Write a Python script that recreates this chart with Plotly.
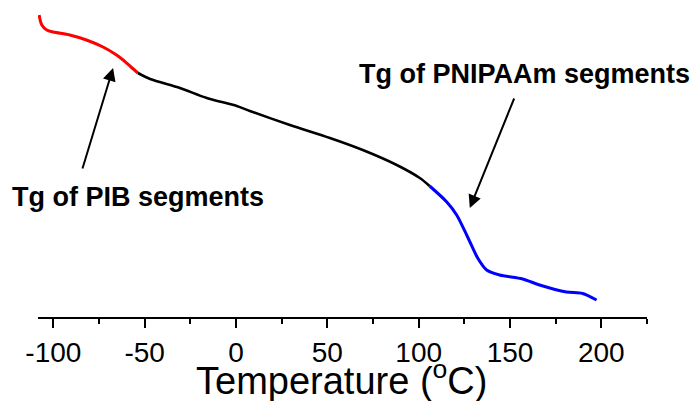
import plotly.graph_objects as go

# Temperature (°C) and heat-flow signal (arbitrary units)
temp_pib = [-107.8, -106.3, -103.6, -100.0, -91.0, -81.9, -72.8, -65.4, -61.8, -57.5, -53.7]
flow_pib = [30.2, 29.2, 28.7, 28.5, 28.2, 27.7, 27.0, 26.2, 25.7, 25.0, 24.4]

temp_mid = [-53.7, -47.0, -30.7, -16.0, 0.4, 7.6, 29.5, 51.4, 69.4, 88.0, 100.6, 106.0]
flow_mid = [24.4, 23.8, 22.9, 21.9, 21.1, 20.6, 19.2, 17.9, 16.7, 15.2, 13.9, 13.1]

temp_pni = [106.0, 115.4, 120.8, 126.8, 132.3, 137.2, 144.3, 156.9, 166.2, 180.9, 189.7, 197.4]
flow_pni = [13.1, 11.5, 10.2, 8.0, 5.9, 4.7, 4.2, 3.8, 3.2, 2.5, 2.35, 1.7]

major_ticks = [-100, -50, 0, 50, 100, 150, 200]
major_labels = ["-100", "-50", "0", "50", "100", "150", "200"]
minor_ticks = [-75, -25, 25, 75, 125, 175, 225]

FONT = "Liberation Sans, Arial, sans-serif"

fig = go.Figure()
fig.add_trace(go.Scatter(x=temp_pib, y=flow_pib, mode="lines",
                         line=dict(color="#ff0000", width=3, shape="spline", smoothing=0.8),
                         showlegend=False))
fig.add_trace(go.Scatter(x=temp_mid, y=flow_mid, mode="lines",
                         line=dict(color="#000000", width=2.6, shape="spline", smoothing=0.8),
                         showlegend=False))
fig.add_trace(go.Scatter(x=temp_pni, y=flow_pni, mode="lines",
                         line=dict(color="#0000ff", width=3, shape="spline", smoothing=0.8),
                         showlegend=False))

fig.update_layout(
    width=698, height=401,
    margin=dict(l=38, r=51, t=10, b=84, autoexpand=False),
    paper_bgcolor="white", plot_bgcolor="white",
    font=dict(family=FONT, color="black"),
    xaxis=dict(
        range=[-108.4, 225], showgrid=False, zeroline=False, automargin=False,
        showline=True, linecolor="black", linewidth=2,
        tickmode="array", tickvals=major_ticks, ticktext=major_labels,
        ticks="outside", ticklen=9, tickwidth=2, tickcolor="black",
        tickfont=dict(size=28, family=FONT),
        minor=dict(tickvals=minor_ticks, ticks="outside",
                   ticklen=5, tickwidth=2, tickcolor="black"),
    ),
    yaxis=dict(range=[0, 30.7], visible=False),
    annotations=[
        dict(x=57.7, y=-0.2, xref="x", yref="paper", showarrow=False,
             text="Temperature (<sup>o</sup>C)", font=dict(size=38, family=FONT),
             xanchor="center", yanchor="middle"),
        dict(x=-67.3, y=24.9, ax=-84.3, ay=14.7, xref="x", yref="y", axref="x", ayref="y",
             showarrow=True, arrowhead=2, arrowsize=1.3, arrowwidth=2, arrowcolor="black", text=""),
        dict(x=128.0, y=10.9, ax=152.6, ay=22.0, xref="x", yref="y", axref="x", ayref="y",
             showarrow=True, arrowhead=2, arrowsize=1.3, arrowwidth=2, arrowcolor="black", text=""),
        dict(x=-53.4, y=12.0, xref="x", yref="y", showarrow=False,
             text="<b>Tg of PIB segments</b>", font=dict(size=27, family=FONT),
             xanchor="center", yanchor="middle"),
        dict(x=158.0, y=24.3, xref="x", yref="y", showarrow=False,
             text="<b>Tg of PNIPAAm segments</b>", font=dict(size=27, family=FONT),
             xanchor="center", yanchor="middle"),
    ],
)

fig.write_html("out.html", config={"displayModeBar": False},
               post_script="document.body.style.margin='0';document.body.style.overflow='hidden';")
